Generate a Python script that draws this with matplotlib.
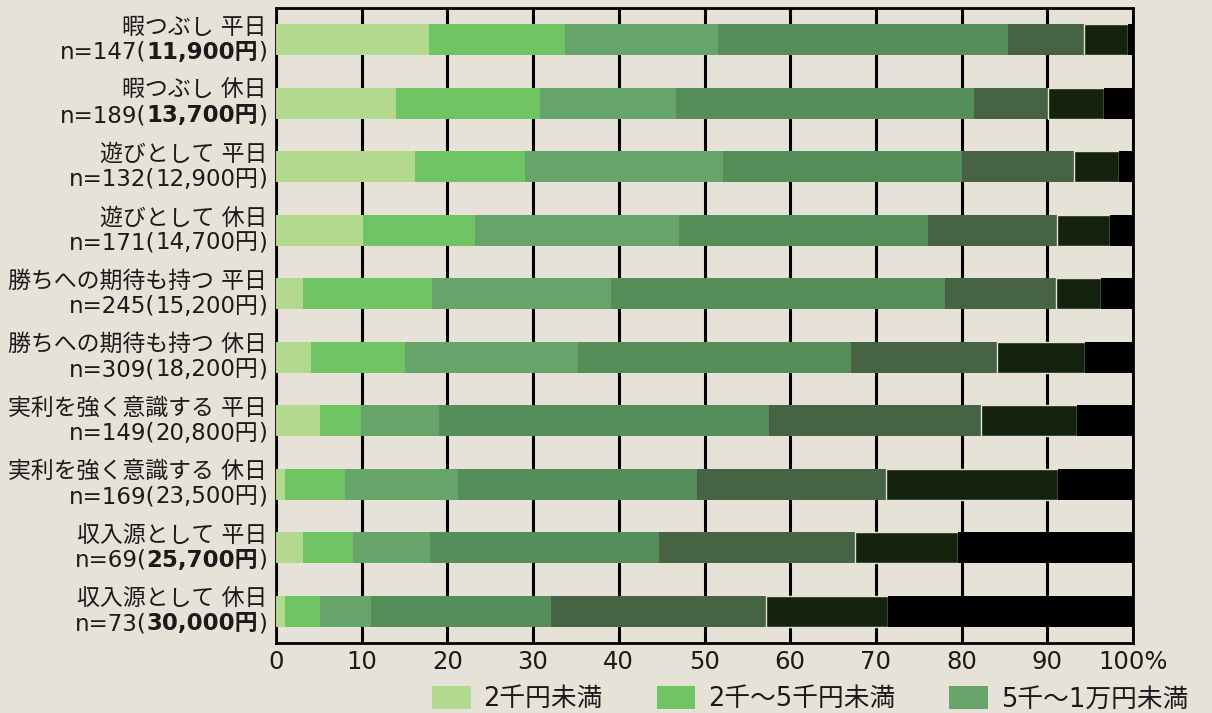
import matplotlib
matplotlib.use("Agg")
import matplotlib.pyplot as plt
from matplotlib.patches import Patch
import numpy as np

plt.rcParams['font.family'] = ['DejaVu Sans', 'Noto Sans CJK JP']

# rows, top to bottom
names = ["暇つぶし 平日", "暇つぶし 休日", "遊びとして 平日", "遊びとして 休日",
         "勝ちへの期待も持つ 平日", "勝ちへの期待も持つ 休日",
         "実利を強く意識する 平日", "実利を強く意識する 休日",
         "収入源として 平日", "収入源として 休日"]
n_values = [147, 189, 132, 171, 245, 309, 149, 169, 69, 73]
amounts = ["11,900円", "13,700円", "12,900円", "14,700円", "15,200円",
           "18,200円", "20,800円", "23,500円", "25,700円", "30,000円"]
amount_bold = [True, True, False, False, False, False, False, False, True, True]

# share (%) per spending bracket
brackets = ["2千円未満", "2千～5千円未満", "5千～1万円未満",
            "1万～2万円未満", "2万～3万円未満", "3万～5万円未満", "5万円以上"]
s1 = [17.9, 14.0, 16.2, 10.1, 3.2, 4.1, 5.1, 1.1, 3.1, 1.1]
s2 = [15.8, 16.8, 12.9, 13.1, 15.0, 11.0, 4.8, 7.0, 5.9, 4.0]
s3 = [17.9, 15.9, 23.1, 23.8, 20.9, 20.1, 9.1, 13.1, 9.0, 6.0]
s4 = [33.8, 34.7, 27.8, 29.1, 39.0, 31.9, 38.5, 27.9, 26.7, 21.0]
s5 = [8.9, 8.7, 13.1, 15.0, 12.9, 17.0, 24.8, 22.1, 22.9, 25.1]
s6 = [5.1, 6.5, 5.3, 6.2, 5.3, 10.3, 11.2, 20.1, 12.0, 14.2]
s7 = [0.6, 3.4, 1.6, 2.7, 3.7, 5.6, 6.5, 8.7, 20.4, 28.6]
series = [s1, s2, s3, s4, s5, s6, s7]

xticks = [0, 10, 20, 30, 40, 50, 60, 70, 80, 90, 100]
xtick_labels = ["0", "10", "20", "30", "40", "50", "60", "70", "80", "90", "100%"]

colors = ["#b3d98f", "#6fc463", "#66a46a", "#558e58", "#466443", "#13230e", "#000000"]
bg = "#e7e2d8"
txt = "#1a1a1a"

fig = plt.figure(figsize=(12.12, 7.13), dpi=100, facecolor=bg)
ax = fig.add_axes([276/1212, 70/713, 857/1212, 635/713], facecolor=bg)

y = np.arange(len(names))
left = np.zeros(len(names))
for k, vals in enumerate(series):
    vals = np.array(vals)
    if k == 5:
        ax.barh(y, vals, left=left, height=0.49, color=colors[k],
                edgecolor=bg, linewidth=1.0, zorder=3)
    else:
        ax.barh(y, vals, left=left, height=0.49, color=colors[k],
                linewidth=0, zorder=3)
    left += vals

ax.set_xlim(0, 100)
ax.set_ylim(len(names) - 0.5, -0.5)
ax.set_xticks(xticks)
ax.set_xticklabels(xtick_labels, fontsize=17.5, color=txt)
ax.set_yticks([])
ax.tick_params(axis='x', length=0, pad=5)
ax.xaxis.grid(True, color='black', linewidth=2.2)
ax.set_axisbelow(True)
for sp in ax.spines.values():
    sp.set_color('black')
    sp.set_linewidth(2)

# two-line row labels, amount sometimes bold
fs = 16.5
tr = ax.get_yaxis_transform()
for i in range(len(names)):
    ax.annotate(names[i], xy=(0, i), xycoords=tr, xytext=(-9, 12.5),
                textcoords='offset pixels', ha='right', va='center',
                fontsize=fs, color=txt)
    close = ax.annotate(")", xy=(0, i), xycoords=tr, xytext=(-9, -12.5),
                        textcoords='offset pixels', ha='right', va='center',
                        fontsize=fs, color=txt)
    mid = ax.annotate(amounts[i], xy=(0, 0.5), xycoords=close, ha='right', va='center',
                      fontsize=fs, color=txt,
                      fontweight='bold' if amount_bold[i] else 'normal')
    ax.annotate(f"n={n_values[i]}(", xy=(0, 0.5), xycoords=mid, ha='right',
                va='center', fontsize=fs, color=txt)

handles = [Patch(facecolor=colors[k], edgecolor='none') for k in range(3)]
fig.legend(handles, brackets[:3], loc='upper left',
           bbox_to_anchor=(432/1212, 1 - 686/713), ncol=3, frameon=False,
           fontsize=18.5, handlelength=1.5, handleheight=1.0, handletextpad=0.5,
           columnspacing=2.1, borderpad=0, borderaxespad=0, labelcolor=txt)

fig.savefig("out.png", dpi=100, facecolor=bg)
